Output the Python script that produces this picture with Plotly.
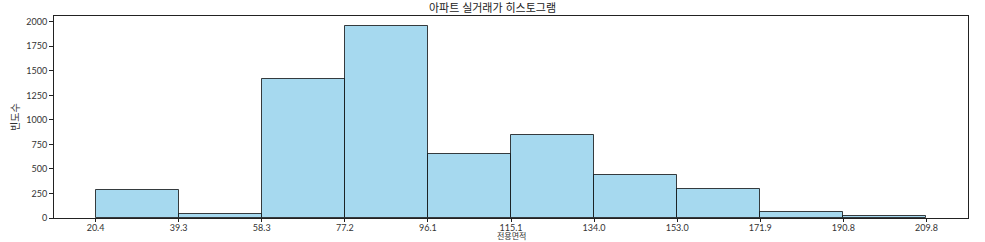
import plotly.graph_objects as go

bin_edges = [20.4, 39.34, 58.28, 77.22, 96.16, 115.1, 134.04, 152.98, 171.92, 190.86, 209.8]
counts = [285, 38, 1419, 1961, 652, 841, 434, 298, 57, 23]
tick_labels = ["20.4", "39.3", "58.3", "77.2", "96.1", "115.1", "134.0", "153.0", "171.9", "190.8", "209.8"]
y_ticks = [0, 250, 500, 750, 1000, 1250, 1500, 1750, 2000]

centers = [(a + b) / 2 for a, b in zip(bin_edges[:-1], bin_edges[1:])]
widths = [b - a for a, b in zip(bin_edges[:-1], bin_edges[1:])]

span = bin_edges[-1] - bin_edges[0]
xr = [bin_edges[0] - 0.05 * span, bin_edges[-1] + 0.05 * span]

font = "Lato, Noto Sans CJK KR, sans-serif"

fig = go.Figure(go.Bar(
    x=centers, y=counts, width=widths,
    marker=dict(color="#a6d9ef", line=dict(color="rgba(0,0,0,0.75)", width=1)),
))

fig.update_layout(
    width=985, height=242,
    margin=dict(l=54, r=17, t=16, b=24, autoexpand=False),
    paper_bgcolor="white", plot_bgcolor="white",
    font=dict(family=font, size=10, color="#333"),
    title=dict(text="아파트 실거래가 히스토그램", x=0.5, xanchor="center",
               y=1 - 8 / 242, yanchor="middle", yref="container",
               font=dict(size=11, color="#222")),
    showlegend=False, bargap=0,
    annotations=[
        dict(text="전용면적", xref="paper", yref="paper", x=0.5, y=-(242 - 218) / 202,
             xanchor="center", yanchor="bottom", showarrow=False, font=dict(size=8, color="#333"),
             borderpad=0),
        dict(text="빈도수", xref="paper", yref="paper", x=-(54 - 15) / 914, y=0.5,
             xanchor="center", yanchor="middle", showarrow=False, textangle=-90,
             font=dict(size=10, color="#333")),
    ],
)
fig.update_xaxes(
    range=xr, tickvals=bin_edges, ticktext=tick_labels, automargin=False,
    showline=True, linecolor="#222", linewidth=1, mirror=True,
    ticks="outside", ticklen=3, tickcolor="#222", showgrid=False, zeroline=False,
    tickfont=dict(size=9), ticklabelstandoff=-2,
)
fig.update_yaxes(
    range=[0, max(counts) * 1.05], tickvals=y_ticks, automargin=False,
    showline=True, linecolor="#222", linewidth=1, mirror=True,
    ticks="outside", ticklen=4, tickcolor="#222", showgrid=False, zeroline=False,
    tickfont=dict(size=9),
)

fig.write_html("out.html")
